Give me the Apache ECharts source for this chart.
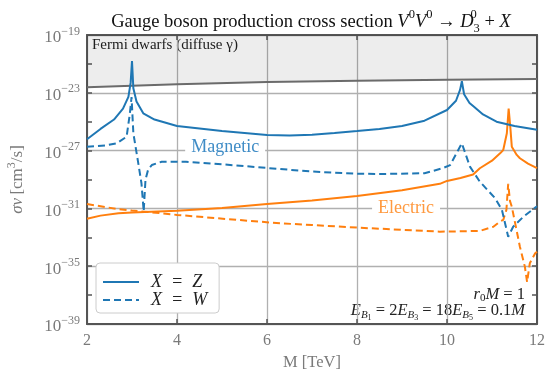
<!DOCTYPE html>
<html>
<head>
<meta charset="utf-8">
<script src="https://cdn.jsdelivr.net/npm/echarts/dist/echarts.min.js"></script>
<style>
  html, body { margin: 0; padding: 0; background: #fff; }
  #main { width: 560px; height: 385px; }
</style>
</head>
<body>
<div id="main"></div>
<script>
// values are log10(sigma v / cm^3 s^-1), masses in TeV
var fermiM = [2, 4, 6, 8, 10, 12];
var fermiLimit = [-22.62, -22.41, -22.25, -22.17, -22.1, -22.05];

var magZ_M = [2.0, 2.3, 2.6, 2.8, 2.92, 2.97, 3.0, 3.03, 3.1, 3.25, 3.5, 4.0, 5.0, 6.0, 6.5, 7.0, 7.5, 8.0, 8.5, 9.0, 9.5, 10.0, 10.2, 10.29, 10.33, 10.38, 10.5, 10.6, 10.8, 11.1, 11.5, 12.0];
var magZ = [-26.22, -25.5, -24.85, -24.1, -23.28, -22.3, -20.8, -22.69, -23.6, -24.42, -24.85, -25.3, -25.65, -25.92, -25.95, -25.9, -25.78, -25.65, -25.5, -25.3, -24.93, -24.19, -23.55, -22.8, -22.2, -23.1, -23.7, -23.96, -24.5, -25.0, -25.3, -25.55];

var magW_M = [2.0, 2.4, 2.66, 2.88, 2.95, 2.99, 3.03, 3.14, 3.21, 3.26, 3.3, 3.36, 3.44, 3.66, 4.2, 5.0, 6.0, 7.0, 8.0, 8.5, 9.5, 9.9, 10.07, 10.21, 10.33, 10.51, 10.73, 11.07, 11.22, 11.36, 11.47, 11.7, 12.0];
var magW = [-26.73, -26.65, -26.5, -26.04, -24.5, -23.3, -25.8, -27.88, -29.26, -31.2, -29.0, -28.3, -28.0, -27.77, -27.77, -27.95, -28.2, -28.45, -28.6, -28.62, -28.57, -28.22, -28.0, -27.19, -26.5, -28.11, -29.15, -30.3, -31.1, -32.96, -32.27, -31.57, -30.85];

var eleZ_M = [2.0, 2.3, 2.7, 3.0, 4.0, 5.0, 5.5, 6.0, 7.0, 8.0, 9.0, 9.84, 10.0, 10.3, 10.58, 10.73, 11.0, 11.18, 11.25, 11.33, 11.37, 11.41, 11.44, 11.55, 11.62, 11.8, 12.0];
var eleZ = [-31.72, -31.5, -31.34, -31.28, -31.16, -30.97, -30.83, -30.7, -30.45, -30.14, -29.75, -29.3, -29.1, -28.9, -28.65, -28.22, -27.7, -27.19, -26.96, -25.8, -24.1, -25.5, -26.73, -27.3, -27.53, -27.9, -28.22];

var eleW_M = [2.0, 2.3, 2.7, 3.0, 3.66, 4.0, 5.36, 6.29, 7.0, 8.0, 9.0, 9.84, 10.73, 11.03, 11.18, 11.25, 11.32, 11.36, 11.4, 11.44, 11.62, 11.73, 11.78, 11.84, 11.96, 12.0];
var eleW = [-30.7, -30.85, -31.06, -31.15, -31.34, -31.45, -31.8, -32.03, -32.15, -32.33, -32.48, -32.61, -32.56, -32.27, -31.9, -31.8, -31.1, -29.3, -30.5, -30.88, -33.65, -35.03, -36.1, -34.8, -34.1, -34.0];

var legendNames = ['X = Z', 'X = W'];

var serif = 'Liberation Serif, DejaVu Serif, serif';
var grey = '#7a7a7a';
var frame = '#555555';
var blue = '#1f77b4';
var orange = '#ff7f0e';

function pairs(ms, vs) {
    return ms.map(function (m, i) { return [m, vs[i]]; });
}

// rich text piece; raise > 0 lifts the glyphs, raise < 0 drops them
function piece(size, color, lh, raise, italic) {
    var s = { fontFamily: serif, fontSize: size, fontWeight: 'normal', color: color, fill: color, lineHeight: lh };
    if (italic) s.fontStyle = 'italic';
    if (raise > 0) s.padding = [0, 0, 2 * raise, 0];
    if (raise < 0) s.padding = [-2 * raise, 0, 0, 0];
    return s;
}

var chart = echarts.init(document.getElementById('main'));

var option = {
    animation: false,
    title: {
        left: 306,
        top: 5,
        textAlign: 'center',
        text: '{n|Gauge boson production cross section }{i|V}{s|0}{i|V}{s|0}{n| → }{i|D}{s0|0}{sb|3}{n| + }{i|X}',
        textStyle: {
            fontWeight: 'normal',
            rich: {
                n: piece(18.5, '#111', 24, 0),
                i: piece(18.5, '#111', 24, 0, true),
                s: piece(12.5, '#111', 24, 7),
                s0: (function () { var p = piece(12.5, '#111', 24, 7); p.width = 0.01; return p; })(),
                sb: piece(12.5, '#111', 24, -7)
            }
        }
    },
    grid: { left: 87, right: 23, top: 35, bottom: 61, outerBoundsMode: 'none' },
    legend: {
        data: legendNames,
        formatter: function (name) { return name.replace(/ = /, '\u2002=\u2002'); },
        orient: 'vertical',
        left: 96,
        top: 263,
        backgroundColor: '#fff',
        borderColor: '#cccccc',
        borderWidth: 1,
        borderRadius: 4,
        padding: [10, 12, 4, 6],
        itemGap: 0,
        itemWidth: 36,
        itemHeight: 14,
        itemStyle: { opacity: 0 },
        textStyle: { fontFamily: serif, fontSize: 18, fontStyle: 'italic', color: '#222', padding: [0, 0, 0, 7] }
    },
    xAxis: [{
        type: 'value',
        min: 2, max: 12, interval: 2,
        name: 'M [TeV]',
        nameLocation: 'middle',
        nameGap: 24,
        nameTextStyle: { fontFamily: serif, fontSize: 16.5, color: grey },
        axisLine: { show: true, lineStyle: { color: frame, width: 2 } },
        axisTick: { show: true, inside: true, length: 5, lineStyle: { color: frame, width: 1.5 } },
        axisLabel: { fontFamily: serif, fontSize: 16, color: grey, margin: 9 },
        splitLine: { show: true, lineStyle: { color: '#b0b0b0', width: 1.3 } }
    }, {
        type: 'value',
        position: 'top',
        min: 2, max: 12, interval: 2,
        axisLine: { show: true, onZero: false, lineStyle: { color: frame, width: 2 } },
        axisTick: { show: true, inside: true, length: 5, lineStyle: { color: frame, width: 1.5 } },
        axisLabel: { show: false },
        splitLine: { show: false }
    }],
    yAxis: [{
        type: 'value',
        min: -39, max: -19, interval: 4,
        name: '{it|σv} {n|[cm}{sup|3}{n|/s]}',
        nameLocation: 'middle',
        nameGap: 58,
        nameRotate: 90,
        nameTextStyle: {
            rich: {
                it: piece(17, grey, 22, 0, true),
                n: piece(17, grey, 22, 0),
                sup: piece(12, grey, 22, 6)
            }
        },
        axisLine: { show: true, onZero: false, lineStyle: { color: frame, width: 2 } },
        axisTick: { show: true, inside: true, length: 5, lineStyle: { color: frame, width: 1.5 } },
        minorTick: { show: true, splitNumber: 2, length: 5, lineStyle: { color: frame, width: 1.5 } },
        axisLabel: {
            margin: 7,
            formatter: function (v) {
                return '{b|10}{e|' + String(v).replace('-', '−') + '}';
            },
            rich: {
                b: piece(17, grey, 22, -3),
                e: piece(12, grey, 22, 3.5)
            }
        },
        splitLine: { show: true, lineStyle: { color: '#b0b0b0', width: 1.3 } }
    }, {
        type: 'value',
        position: 'right',
        min: -39, max: -19, interval: 4,
        axisLine: { show: true, onZero: false, lineStyle: { color: frame, width: 2 } },
        axisTick: { show: true, inside: true, length: 5, lineStyle: { color: frame, width: 1.5 } },
        minorTick: { show: true, splitNumber: 2, length: 5, lineStyle: { color: frame, width: 1.5 } },
        axisLabel: { show: false },
        splitLine: { show: false }
    }],
    graphic: [{
        type: 'text',
        left: 92,
        top: 38,
        style: { text: 'Fermi dwarfs (diffuse γ)', fontFamily: serif, fontSize: 15, fill: '#222' }
    }, {
        type: 'text',
        right: 35,
        top: 285,
        style: {
            text: '{i|r}{sb|0}{i|M}{n| = 1}',
            rich: {
                n: piece(16.5, '#222', 20, 0),
                i: piece(16.5, '#222', 20, 0, true),
                sb: piece(11, '#222', 20, -4)
            }
        }
    }, {
        type: 'text',
        right: 35,
        top: 300,
        style: {
            text: '{i|E}{sb|B}{ssb|1}{n| = 2}{i|E}{sb|B}{ssb|3}{n| = 18}{i|E}{sb|B}{ssb|5}{n| = 0.1}{i|M}',
            rich: {
                n: piece(16.5, '#222', 20, 0),
                i: piece(16.5, '#222', 20, 0, true),
                sb: piece(11, '#222', 20, -4, true),
                ssb: piece(8, '#222', 20, -7)
            }
        }
    }],
    series: [{
        name: 'Fermi',
        type: 'line',
        data: pairs(fermiM, fermiLimit),
        symbol: 'none',
        silent: true,
        lineStyle: { color: '#6b6b6b', width: 2 },
        areaStyle: { origin: 'end', color: 'rgba(0,0,0,0.1)' },
        z: 1
    }, {
        name: 'Electric Z',
        type: 'line',
        data: pairs(eleZ_M, eleZ),
        symbol: 'none',
        lineStyle: { color: orange, width: 2 },
        itemStyle: { color: orange },
        markPoint: {
            symbol: 'circle',
            symbolSize: 0,
            data: [{ coord: [9.09, -31] }],
            label: {
                show: true,
                position: 'inside',
                formatter: 'Electric',
                fontFamily: serif,
                fontSize: 18,
                color: '#ff9a40',
                backgroundColor: '#fff',
                padding: [0, 6, 0, 6]
            }
        }
    }, {
        name: 'Electric W',
        type: 'line',
        data: pairs(eleW_M, eleW),
        symbol: 'none',
        lineStyle: { color: orange, width: 2, type: [7, 4] },
        itemStyle: { color: orange }
    }, {
        name: legendNames[0],
        type: 'line',
        data: pairs(magZ_M, magZ),
        symbol: 'none',
        lineStyle: { color: blue, width: 2 },
        itemStyle: { color: blue },
        markPoint: {
            symbol: 'circle',
            symbolSize: 0,
            data: [{ coord: [5.07, -26.8] }],
            label: {
                show: true,
                position: 'inside',
                formatter: 'Magnetic',
                fontFamily: serif,
                fontSize: 18,
                color: '#3f8cc6',
                backgroundColor: '#fff',
                padding: [0, 6, 0, 6]
            }
        }
    }, {
        name: legendNames[1],
        type: 'line',
        data: pairs(magW_M, magW),
        symbol: 'none',
        lineStyle: { color: blue, width: 2, type: [7, 4] },
        itemStyle: { color: blue }
    }]
};

chart.setOption(option);
</script>
</body>
</html>
